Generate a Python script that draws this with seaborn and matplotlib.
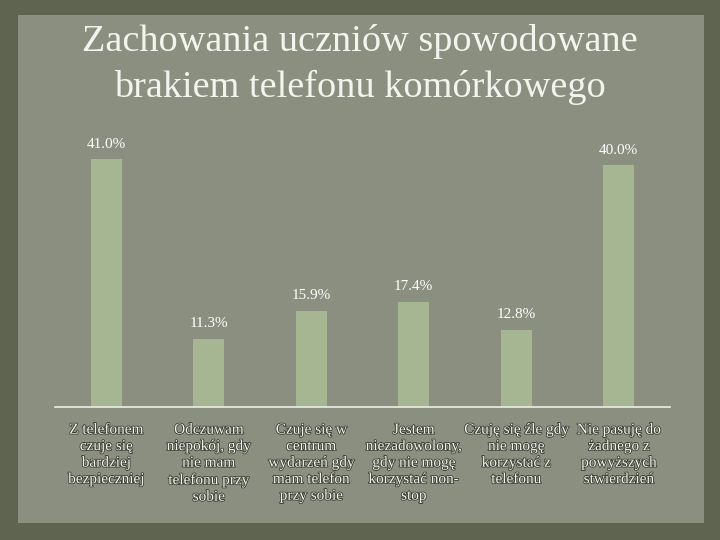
import matplotlib
matplotlib.use("Agg")
import matplotlib.pyplot as plt
import matplotlib.patheffects as pe
from matplotlib.patches import Rectangle
import seaborn as sns
import pandas as pd

categories = [
    "Z telefonem\nczuje się\nbardziej\nbezpieczniej",
    "Odczuwam\nniepokój, gdy\nnie mam\ntelefonu przy\nsobie",
    "Czuje się w\ncentrum\nwydarzeń gdy\nmam telefon\nprzy sobie",
    "Jestem\nniezadowolony,\ngdy nie mogę\nkorzystać non-\nstop",
    "Czuję się źle gdy\nnie mogę\nkorzystać z\ntelefonu",
    "Nie pasuję do\nżadnego z\npowyższych\nstwierdzień",
]
values = [41.0, 11.3, 15.9, 17.4, 12.8, 40.0]
value_labels = ["41.0%", "11.3%", "15.9%", "17.4%", "12.8%", "40.0%"]
title_lines = ["Zachowania uczniów spowodowane", "brakiem telefonu komórkowego"]

df = pd.DataFrame({"cat": categories, "val": values})

sns.set_theme(style="white")
plt.rcParams["font.family"] = ["Liberation Serif", "DejaVu Serif"]

fig = plt.figure(figsize=(7.2, 5.4), dpi=100)
fig.patch.set_facecolor("#5e6450")

bg = fig.add_axes([0, 0, 1, 1], zorder=-10)
bg.set_axis_off()
bg.set_xlim(0, 720)
bg.set_ylim(540, 0)
bg.add_patch(Rectangle((18, 15), 686, 508, facecolor="#8b8f80", edgecolor="none"))

ax = fig.add_axes([55/720, 133/540, 615/720, 267/540], zorder=1)
ax.set_facecolor("none")
sns.barplot(data=df, x="cat", y="val", color="#a6b592", saturation=1, width=0.30,
            linewidth=0, edgecolor="none", ax=ax)
ax.set_ylim(0, 267/6.05)
ax.set_xlim(-0.5, 5.5)
for s in ["left", "right", "top"]:
    ax.spines[s].set_visible(False)
ax.spines["bottom"].set_color("#ecece4")
ax.spines["bottom"].set_linewidth(1.2)
ax.set_yticks([])
ax.set_xlabel("")
ax.set_ylabel("")
ax.tick_params(axis="x", length=0, pad=12)
ax.set_xticks(range(len(categories)))
ax.set_xticklabels(categories, fontsize=11, color="#f2f2ec", linespacing=1.35, va="top")
for t in ax.get_xticklabels():
    t.set_path_effects([pe.withStroke(linewidth=1.2, foreground="#3c3e34")])

for i, (v, lab) in enumerate(zip(values, value_labels)):
    ax.annotate(lab, (i, v), xytext=(0, 6), textcoords="offset points",
                ha="center", va="bottom", fontsize=11, color="white")

fig.text(0.5, 1 - 42/540, title_lines[0], ha="center", va="center",
         fontsize=27.5, color="#f4f4ee")
fig.text(0.5, 1 - 87/540, title_lines[1], ha="center", va="center",
         fontsize=27.5, color="#f4f4ee")

fig.savefig("out.png", dpi=100, facecolor=fig.get_facecolor())
